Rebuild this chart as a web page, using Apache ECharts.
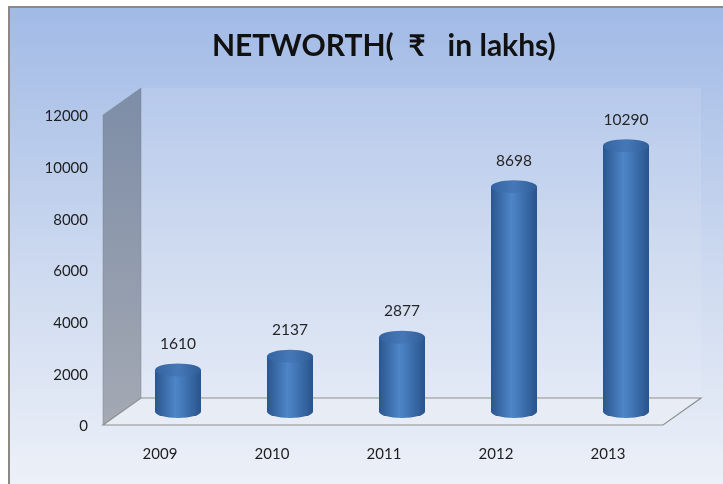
<!DOCTYPE html>
<html>
<head>
<meta charset="utf-8">
<script src="https://cdn.jsdelivr.net/npm/echarts@6/dist/echarts.min.js"></script>
<style>
html,body{margin:0;padding:0;background:#fff;}
#main{width:723px;height:484px;}
</style>
</head>
<body>
<div id="main"></div>
<script>
// networth by year (Rs in lakhs)
var years = ['2009', '2010', '2011', '2012', '2013'];
var networth = [1610, 2137, 2877, 8698, 10290];
var yMax = 12000;
var yStep = 2000;

var depthX = 19, depthY = 13.5;   // fake 3d depth of wall/floor
var barW = 46, capH = 13;
var font = 'Lato';

var bodyColor = new echarts.graphic.LinearGradient(0, 0, 1, 0, [
    {offset: 0, color: '#2a568f'},
    {offset: 0.45, color: '#4e86c8'},
    {offset: 1, color: '#29548d'}
]);
var capColor = new echarts.graphic.LinearGradient(0, 0, 1, 0, [
    {offset: 0, color: '#3463a0'},
    {offset: 0.5, color: '#4678b8'},
    {offset: 1, color: '#305d98'}
]);

// side wall + floor drawn from the grid / value scale
function renderRoom(params, api) {
    var cs = params.coordSys;
    var yb = api.coord([0, 0])[1];
    var yt = api.coord([0, yMax])[1];
    var xl = cs.x, xr = cs.x + cs.width;
    return {
        type: 'group',
        children: [
            {
                type: 'rect',
                shape: {x: xl + depthX, y: yt - depthY, width: xr - xl, height: yb - yt},
                style: {fill: 'rgba(255,255,255,0.10)'}
            },
            {
                type: 'polygon',
                shape: {points: [[xl - depthX, yt + depthY], [xl + depthX, yt - depthY], [xl + depthX, yb - depthY], [xl - depthX, yb + depthY]]},
                style: {
                    fill: new echarts.graphic.LinearGradient(0, 0, 0, 1, [
                        {offset: 0, color: '#7d8da7'},
                        {offset: 1, color: '#a4a9b3'}
                    ]),
                    stroke: '#7f8792',
                    lineWidth: 0.5
                }
            },
            {
                type: 'polygon',
                shape: {points: [[xl - depthX, yb + depthY], [xr - depthX, yb + depthY], [xr + depthX, yb - depthY], [xl + depthX, yb - depthY]]},
                style: {fill: '#e8edf5', stroke: '#8e918f', lineWidth: 1.2}
            }
        ]
    };
}

var chart = echarts.init(document.getElementById('main'));
var option = {
    backgroundColor: '#ffffff',
    animation: false,
    graphic: [{
        type: 'rect',
        z: -10,
        shape: {x: 9, y: 7, width: 740, height: 500},
        style: {
            fill: new echarts.graphic.LinearGradient(0, 0, 0, 1, [
                {offset: 0, color: '#a1bae6'},
                {offset: 0.5, color: '#cbd8ef'},
                {offset: 1, color: '#f0f3f9'}
            ]),
            stroke: '#8c8983',
            lineWidth: 2
        }
    }],
    title: {
        text: 'NETWORTH(  \u20B9   in lakhs)',
        left: 207,
        top: 26,
        textStyle: {fontFamily: font, fontSize: 30, fontWeight: 'bold', color: '#111'}
    },
    grid: {left: 122, right: 41, top: 101.5, bottom: 72.5},
    xAxis: {
        type: 'category',
        data: years,
        axisLine: {show: false},
        axisTick: {show: false},
        axisLabel: {
            margin: 35,
            padding: [0, 36, 0, 0],
            fontFamily: font,
            fontSize: 15,
            color: '#1e1e1e'
        }
    },
    yAxis: {
        type: 'value',
        min: 0,
        max: yMax,
        interval: yStep,
        splitLine: {show: false},
        axisLine: {show: false},
        axisTick: {show: false},
        axisLabel: {
            margin: 34,
            formatter: function (v) {
                return '{v|' + v + '}';
            },
            rich: {
                v: {
                    padding: [30, 0, 0, 0],
                    fontFamily: font,
                    fontSize: 15,
                    color: '#1e1e1e'
                }
            }
        }
    },
    series: [
        {
            type: 'custom',
            renderItem: renderRoom,
            data: [[0, 0]],
            z: 1,
            clip: false,
            silent: true
        },
        {
            type: 'bar',
            data: networth,
            barWidth: barW,
            z: 2,
            itemStyle: {color: bodyColor},
            label: {
                show: true,
                position: 'top',
                distance: 18,
                fontFamily: font,
                fontSize: 15.5,
                color: '#262626'
            }
        },
        {
            type: 'pictorialBar',
            data: networth,
            symbol: 'circle',
            symbolSize: [barW, capH],
            symbolOffset: [0, '50%'],
            z: 1.5,
            itemStyle: {color: bodyColor}
        },
        {
            type: 'pictorialBar',
            data: networth,
            symbol: 'circle',
            symbolSize: [barW, capH],
            symbolPosition: 'end',
            symbolOffset: [0, '-50%'],
            z: 3,
            itemStyle: {color: capColor}
        }
    ]
};
chart.setOption(option);
</script>
</body>
</html>
